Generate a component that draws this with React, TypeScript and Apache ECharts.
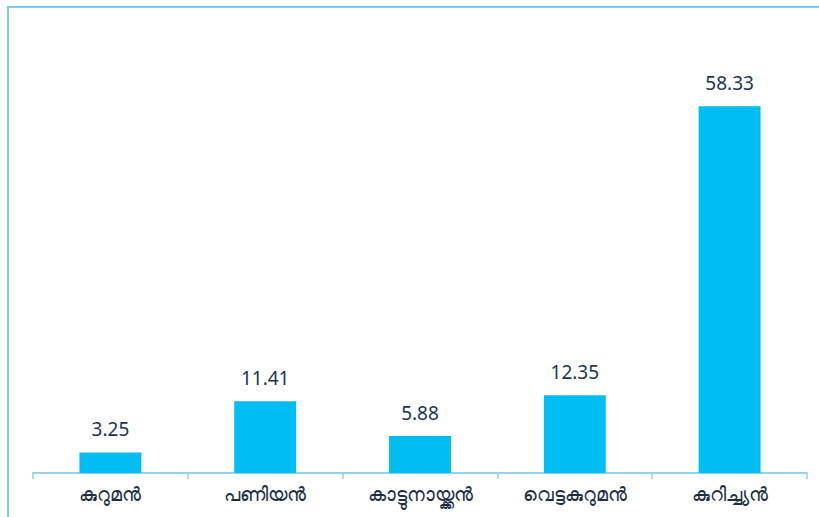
import React, { useEffect, useRef } from "react";
import * as echarts from "echarts";

const categories = ["കുറുമൻ", "പണിയൻ", "കാട്ടുനായ്ക്കൻ", "വെട്ടകുറുമൻ", "കുറിച്ച്യൻ"];
const values = [3.25, 11.41, 5.88, 12.35, 58.33];

export default function App() {
  const ref = useRef<HTMLDivElement>(null);
  useEffect(() => {
    const chart = echarts.init(ref.current!, null, { renderer: "svg" });
    chart.setOption({
      animation: false,
      backgroundColor: "#ffffff",
      graphic: [
        {
          type: "polyline",
          shape: { points: [[8, 540], [8, 7], [830, 7]] },
          style: { stroke: "#7dcbea", lineWidth: 2, fill: "none" },
          silent: true,
        },
      ],
      grid: { left: 33, right: 12, top: 33, bottom: 44 },
      xAxis: {
        type: "category",
        data: categories,
        axisLine: { show: true, lineStyle: { color: "#8fd3ee", width: 2 } },
        axisTick: { show: true, length: 6, lineStyle: { color: "#8fd3ee", width: 1.5 } },
        axisLabel: {
          color: "#1c2f42",
          fontSize: 19,
          margin: 11,
          fontFamily: "Noto Sans, sans-serif",
        },
      },
      yAxis: {
        type: "value",
        min: 0,
        max: 70,
        show: false,
        splitLine: { show: false },
      },
      series: [
        {
          type: "bar",
          data: values,
          barWidth: "40%",
          itemStyle: { color: "#00bdf2" },
          label: {
            show: true,
            position: "top",
            distance: 14,
            color: "#1b3654",
            fontSize: 19,
            fontFamily: "Noto Sans, sans-serif",
            formatter: (p: any) => p.value.toFixed(2),
          },
        },
      ],
    });
    return () => chart.dispose();
  }, []);
  return <div ref={ref} style={{ width: 819, height: 517, position: "absolute", left: 0, top: 0 }} />;
}
